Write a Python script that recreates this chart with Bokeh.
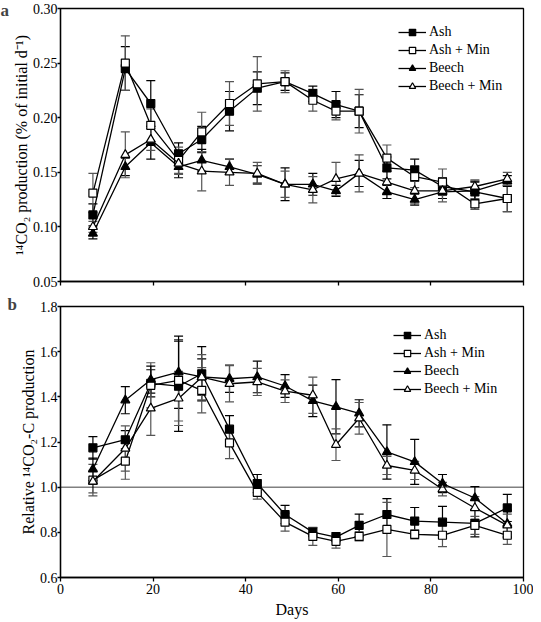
from bokeh.plotting import figure
from bokeh.models import (Range1d, Whisker, ColumnDataSource, Span, Label, FixedTicker,
                          TeeHead, Legend, NumeralTickFormatter)
from bokeh.layouts import column
from bokeh.embed import file_html
from bokeh.resources import INLINE

days = [7, 14, 19.5, 25.5, 30.5, 36.5, 42.5, 48.5, 54.5, 59.5, 64.5, 70.5, 76.5, 82.5, 89.5, 96.5]

# panel a: 14CO2 production (% of initial per day)
ash_a = [0.111, 0.245, 0.213, 0.167, 0.180, 0.206, 0.227, 0.233, 0.222, 0.212, 0.206, 0.154, 0.152, 0.137, 0.132, 0.126]
ashmin_a = [0.131, 0.250, 0.193, 0.161, 0.187, 0.213, 0.231, 0.233, 0.216, 0.206, 0.206, 0.163, 0.146, 0.141, 0.121, 0.126]
beech_a = [0.094, 0.155, 0.177, 0.155, 0.161, 0.155, 0.148, 0.139, 0.139, 0.133, 0.149, 0.132, 0.125, 0.132, 0.133, 0.142]
beechmin_a = [0.100, 0.166, 0.180, 0.158, 0.151, 0.150, 0.149, 0.139, 0.134, 0.144, 0.149, 0.141, 0.133, 0.133, 0.137, 0.144]
ash_a_err = [0.010, 0.020, 0.021, 0.010, 0.012, 0.018, 0.015, 0.008, 0.007, 0.012, 0.015, 0.010, 0.010, 0.008, 0.010, 0.012]
ashmin_a_err = [0.018, 0.025, 0.015, 0.012, 0.018, 0.020, 0.025, 0.010, 0.010, 0.008, 0.020, 0.012, 0.010, 0.012, 0.005, 0.012]
beech_a_err = [0.005, 0.008, 0.015, 0.010, 0.010, 0.007, 0.008, 0.015, 0.010, 0.005, 0.012, 0.006, 0.005, 0.006, 0.008, 0.005]
beechmin_a_err = [0.005, 0.021, 0.010, 0.010, 0.018, 0.012, 0.010, 0.012, 0.012, 0.015, 0.017, 0.010, 0.012, 0.010, 0.006, 0.006]

# panel b: relative 14CO2-C production
ash_b = [1.174, 1.21, 1.46, 1.447, 1.502, 1.257, 1.016, 0.879, 0.801, 0.779, 0.831, 0.879, 0.850, 0.845, 0.84, 0.908]
ashmin_b = [1.031, 1.115, 1.451, 1.473, 1.429, 1.196, 0.977, 0.845, 0.782, 0.760, 0.782, 0.813, 0.791, 0.787, 0.831, 0.787]
beech_b = [1.079, 1.385, 1.476, 1.509, 1.488, 1.480, 1.488, 1.448, 1.382, 1.356, 1.327, 1.156, 1.112, 1.016, 0.952, 0.838]
beechmin_b = [1.025, 1.171, 1.349, 1.393, 1.487, 1.458, 1.466, 1.425, 1.407, 1.188, 1.305, 1.096, 1.074, 0.991, 0.908, 0.831]
ash_b_err = [0.05, 0.04, 0.06, 0.20, 0.12, 0.06, 0.04, 0.04, 0.02, 0.02, 0.05, 0.07, 0.06, 0.07, 0.06, 0.06]
ashmin_b_err = [0.07, 0.08, 0.10, 0.18, 0.10, 0.07, 0.03, 0.04, 0.04, 0.03, 0.02, 0.12, 0.02, 0.05, 0.04, 0.04]
beech_b_err = [0.05, 0.06, 0.06, 0.16, 0.08, 0.06, 0.07, 0.05, 0.07, 0.12, 0.06, 0.12, 0.10, 0.04, 0.05, 0.06]
beechmin_b_err = [0.05, 0.10, 0.12, 0.12, 0.10, 0.08, 0.06, 0.05, 0.08, 0.07, 0.07, 0.04, 0.04, 0.03, 0.05, 0.05]

series_names = ["Ash", "Ash + Min", "Beech", "Beech + Min"]
x_ticks = [0, 20, 40, 60, 80, 100]
ya_ticks = [0.05, 0.10, 0.15, 0.20, 0.25, 0.30]
yb_ticks = [0.6, 0.8, 1.0, 1.2, 1.4, 1.6, 1.8]

SERIF = "Liberation Serif"
styles = [
    dict(marker="square", fill="black", size=8, ecolor="black"),
    dict(marker="square", fill="white", size=8, ecolor="#555555"),
    dict(marker="triangle", fill="black", size=9, ecolor="black"),
    dict(marker="triangle", fill="white", size=9, ecolor="#555555"),
]


def style_axes(p, show_x_labels):
    p.outline_line_color = "black"
    p.outline_line_width = 1.3
    p.xgrid.visible = False
    p.ygrid.visible = False
    for ax in [p.xaxis[0], p.yaxis[0]]:
        ax.axis_line_width = 1.3
        ax.major_tick_line_width = 1.3
        ax.major_tick_in = 0
        ax.major_tick_out = 4
        ax.minor_tick_line_color = None
        ax.major_label_text_font = SERIF
        ax.major_label_text_font_size = "14px"
        ax.major_label_text_color = "black"
        ax.axis_label_text_font = SERIF
        ax.axis_label_text_font_size = "16px"
        ax.axis_label_text_font_style = "normal"
        ax.axis_label_text_color = "black"
    p.xaxis[0].ticker = FixedTicker(ticks=x_ticks)
    p.xaxis[0].major_label_standoff = 2
    p.yaxis[0].major_tick_out = 3
    p.yaxis[0].major_label_standoff = 0
    p.yaxis[0].axis_label_standoff = 0
    if not show_x_labels:
        p.xaxis[0].major_label_text_color = None
        p.xaxis[0].major_label_text_font_size = "1px"
        p.xaxis[0].major_label_standoff = 0


def draw_panel(p, ys, errs, legend_x, legend_y):
    for name, y, e, st in zip(series_names, ys, errs, styles):
        src = ColumnDataSource(dict(x=days, y=y,
                                    lo=[a - b for a, b in zip(y, e)],
                                    hi=[a + b for a, b in zip(y, e)]))
        w = Whisker(source=src, base="x", lower="lo", upper="hi",
                    line_color=st["ecolor"], line_width=1.2,
                    upper_head=TeeHead(size=9, line_color=st["ecolor"], line_width=1.2),
                    lower_head=TeeHead(size=9, line_color=st["ecolor"], line_width=1.2))
        p.add_layout(w)
    items = []
    for name, y, st in zip(series_names, ys, styles):
        src = ColumnDataSource(dict(x=days, y=y))
        r1 = p.line("x", "y", source=src, line_color="black", line_width=1.3)
        r2 = p.scatter("x", "y", source=src, marker=st["marker"], size=st["size"],
                       fill_color=st["fill"], line_color="black", line_width=1.2)
        items.append((name, [r1, r2]))
    leg = Legend(items=items, location=(legend_x, legend_y))
    leg.background_fill_alpha = 0
    leg.border_line_color = None
    leg.padding = 0
    leg.margin = 0
    leg.spacing = 2
    leg.label_height = 16
    leg.glyph_height = 16
    leg.glyph_width = 28
    leg.label_standoff = 3
    leg.label_text_font = SERIF
    leg.label_text_font_size = "14px"
    leg.label_text_color = "black"
    p.add_layout(leg, "center")


# panel a: frame 273 px tall
pa = figure(width=533, height=296, x_range=Range1d(0, 100), y_range=Range1d(0.05, 0.30),
            output_backend="svg", toolbar_location=None,
            min_border_left=45, min_border_right=10, min_border_top=8, min_border_bottom=15)
style_axes(pa, False)
pa.yaxis[0].ticker = FixedTicker(ticks=ya_ticks)
pa.yaxis[0].formatter = NumeralTickFormatter(format="0.00")
pa.yaxis[0].axis_label = "¹⁴CO₂ production (% of initial d⁻¹)"
draw_panel(pa, [ash_a, ashmin_a, beech_a, beechmin_a],
           [ash_a_err, ashmin_a_err, beech_a_err, beechmin_a_err], 338, 187)
pa.add_layout(Label(x=0, y=281, x_units="screen", y_units="screen",
                    text="a", text_font=SERIF, text_font_size="17px",
                    text_font_style="bold", text_baseline="top", text_align="left"), "left")

# panel b: frame 274 px tall
pb = figure(width=533, height=324, x_range=Range1d(0, 100), y_range=Range1d(0.6, 1.8),
            output_backend="svg", toolbar_location=None,
            min_border_left=45, min_border_right=10, min_border_top=10, min_border_bottom=40)
style_axes(pb, True)
pb.yaxis[0].ticker = FixedTicker(ticks=yb_ticks)
pb.yaxis[0].formatter = NumeralTickFormatter(format="0.0")
pb.yaxis[0].axis_label = "Relative ¹⁴CO₂-C production"
pb.xaxis[0].axis_label = "Days"
pb.xaxis[0].axis_label_standoff = 4
pb.add_layout(Span(location=1.0, dimension="width", line_color="black",
                   line_width=1.5, line_dash="1 1"))
draw_panel(pb, [ash_b, ashmin_b, beech_b, beechmin_b],
           [ash_b_err, ashmin_b_err, beech_b_err, beechmin_b_err], 333, 180)
pb.add_layout(Label(x=0, y=283, x_units="screen", y_units="screen",
                    text="b", text_font=SERIF, text_font_size="17px",
                    text_font_style="bold", text_baseline="top", text_align="left"), "left")

layout = column(pa, pb, spacing=0)
open("out.html", "w").write(file_html(layout, INLINE))
